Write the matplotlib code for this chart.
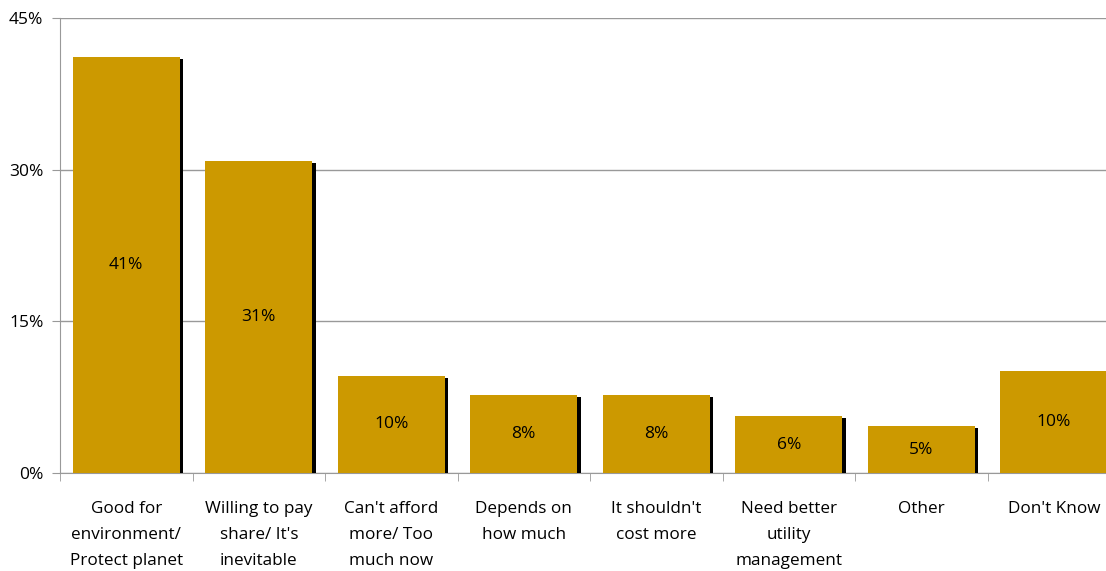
import matplotlib.pyplot as plt
import matplotlib.patheffects as pe
from matplotlib.ticker import FixedLocator, PercentFormatter

# Survey answers and share of respondents (%)
categories = [
    "Good for\nenvironment/\nProtect planet",
    "Willing to pay\nshare/ It's\ninevitable",
    "Can't afford\nmore/ Too\nmuch now",
    "Depends on\nhow much",
    "It shouldn't\ncost more",
    "Need better\nutility\nmanagement",
    "Other",
    "Don't Know",
]
shares = [41.1, 30.9, 9.6, 7.7, 7.7, 5.6, 4.6, 10.1]

plt.rcParams['font.family'] = ['Open Sans', 'DejaVu Sans']

fig = plt.figure(figsize=(11.06, 5.71), dpi=100)
# plot area runs a little past the right edge of the figure
ax = fig.add_axes([60 / 1106, 98 / 571, 1060 / 1106, 455 / 571])

x = range(len(categories))
bars = ax.bar(x, shares, width=0.81, color='#CC9900', zorder=3,
              path_effects=[pe.SimplePatchShadow(offset=(2.3, -1.4),
                                                 shadow_rgbFace='black', alpha=1),
                            pe.Normal()])

for b, v in zip(bars, shares):
    ax.text(b.get_x() + b.get_width() / 2, v / 2, f"{v:.0f}%",
            ha='center', va='center', fontsize=12.5, color='black', zorder=4)

ax.set_xlim(-0.5, len(categories) - 0.5)
ax.set_ylim(0, 45)
ax.set_yticks([0, 15, 30, 45])
ax.yaxis.set_major_formatter(PercentFormatter(decimals=0))
ax.grid(axis='y', color='#999999', linewidth=1, zorder=0)

# category labels sit between boundary ticks
ax.set_xticks(list(x))
ax.set_xticklabels(categories, fontsize=12.3, linespacing=1.85)
ax.tick_params(axis='x', length=0, pad=20)
ax.xaxis.set_minor_locator(FixedLocator([i - 0.5 for i in range(len(categories) + 1)]))
ax.tick_params(axis='x', which='minor', length=6, color='#999999', direction='out')
ax.tick_params(axis='y', length=6, color='#999999', labelsize=12.5, pad=6)

for s in ['top', 'right']:
    ax.spines[s].set_visible(False)
for s in ['left', 'bottom']:
    ax.spines[s].set_color('#999999')

fig.savefig('out.png', dpi=100)
